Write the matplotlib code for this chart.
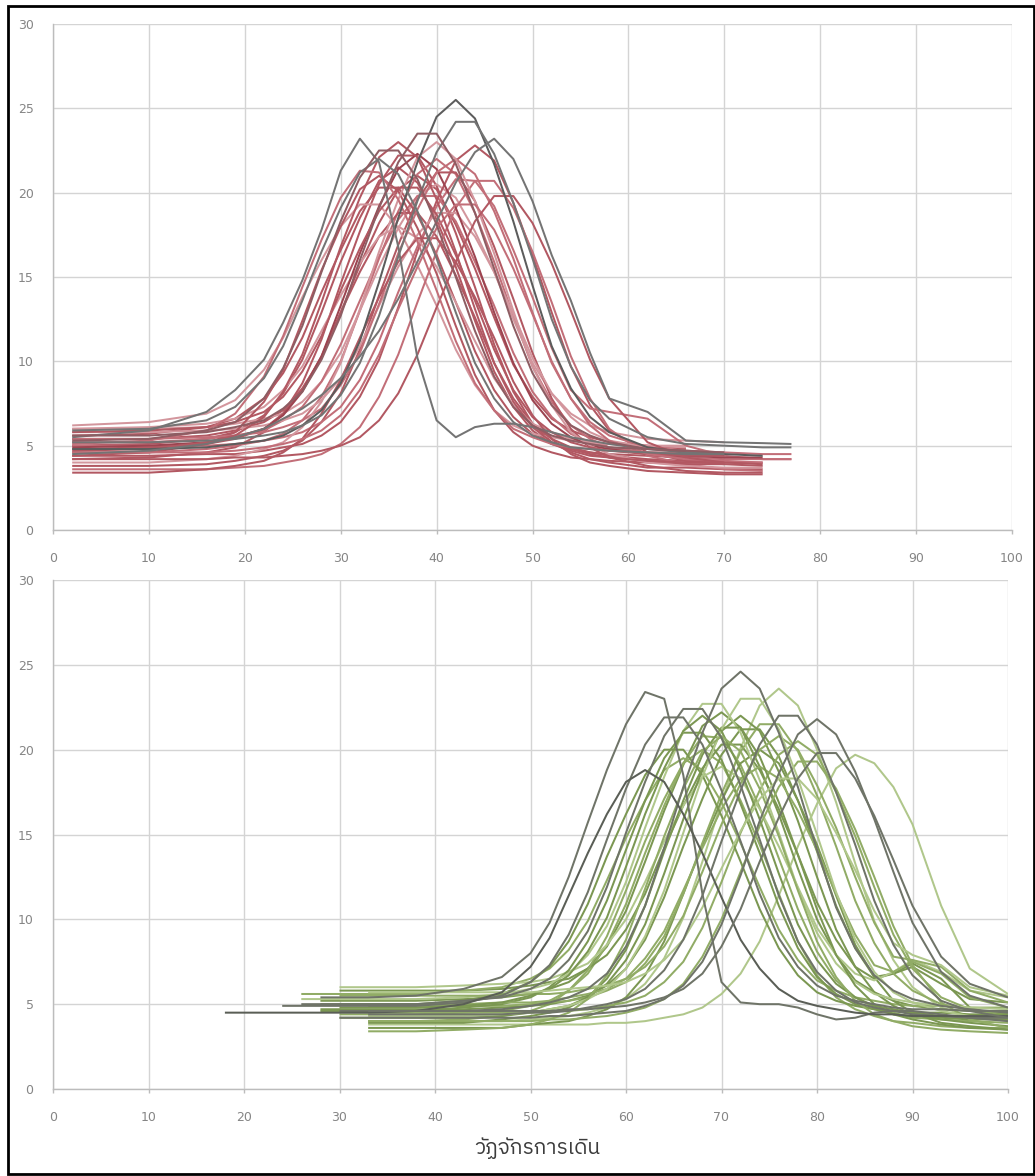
import matplotlib
matplotlib.use("Agg")
import matplotlib.pyplot as plt
from matplotlib import font_manager as fm
from matplotlib.ft2font import FT2Font
from matplotlib.patches import Rectangle

# ---------------- data ----------------
x_ticks = [0, 10, 20, 30, 40, 50, 60, 70, 80, 90, 100]
y_ticks = [0, 5, 10, 15, 20, 25, 30]
x_label = "วัฏจักรการเดิน"

# top panel: shared x grid, each curve gives y on the first len(y) grid points
top_x = [2, 10, 16, 19, 22, 24, 26, 28, 30, 32, 34, 36, 38, 40, 42, 44, 46, 48,
         50, 52, 54, 56, 58, 62, 66, 70, 74, 77]
top_y = [
    [4.8, 4.8, 4.9, 5.1, 5.3, 5.6, 6.2, 7.1, 8.7, 11.2, 14.7, 18.5, 21.8, 24.5, 25.5, 24.4, 21.7, 18.3, 14.5, 10.9, 8.4, 6.7, 5.8, 4.9, 4.6, 4.5, 4.4],
    [5.2, 5.2, 5.3, 5.4, 5.6, 5.8, 6.2, 6.8, 8.0, 9.9, 12.7, 16.2, 19.5, 22.4, 24.2, 24.2, 22.3, 19.4, 16.1, 12.5, 9.7, 7.7, 6.6, 5.5, 5.1, 5.0, 4.9, 4.9],
    [5.5, 5.9, 7.0, 8.3, 10.1, 12.3, 14.8, 17.8, 21.3, 23.2, 21.8, 16.8, 10.2, 6.5, 5.5, 6.1, 6.3, 6.3, 6.1, 5.8, 5.5, 5.3, 5.1, 4.8, 4.6, 4.5],
    [4.5, 4.7, 5.1, 5.5, 6.0, 6.6, 7.2, 8.0, 9.0, 10.3, 11.8, 13.7, 15.9, 18.3, 20.6, 22.4, 23.2, 22.0, 19.5, 16.3, 13.6, 10.5, 7.8, 7.0, 5.3, 5.2, 5.15, 5.1],
    [5.6, 5.6, 5.8, 6.1, 6.5, 7.2, 8.2, 10.1, 12.7, 16.0, 19.1, 21.8, 23.5, 23.5, 21.7, 18.8, 15.5, 12.1, 9.3, 7.4, 6.2, 5.6, 5.2, 4.8, 4.7, 4.6],
    [5.9, 6.0, 6.5, 7.3, 9.0, 10.9, 13.6, 16.5, 19.1, 21.2, 22.0, 21.1, 18.9, 16.1, 12.9, 9.9, 7.8, 6.4, 5.6, 5.2, 4.9, 4.8, 4.7, 4.6, 4.5, 4.5],
    [5.0, 5.1, 5.4, 5.8, 6.8, 8.1, 10.1, 12.9, 15.9, 18.5, 20.7, 21.5, 20.6, 18.4, 15.6, 12.4, 9.4, 7.3, 5.9, 5.1, 4.7, 4.4, 4.3, 4.1, 4.0, 4.0, 4.0],
    [4.2, 4.3, 4.6, 4.9, 5.8, 6.9, 8.7, 11.3, 14.6, 17.7, 20.5, 22.2, 22.2, 20.4, 17.6, 14.4, 11.0, 8.2, 6.3, 5.2, 4.6, 4.2, 4.0, 3.7, 3.7, 3.6, 3.6],
    [5.4, 5.4, 5.6, 5.9, 6.4, 7.1, 8.4, 10.2, 12.9, 15.7, 18.2, 20.2, 21.0, 20.2, 18.1, 15.5, 12.6, 9.8, 7.9, 6.6, 5.9, 5.5, 5.2, 5.0, 4.8],
    [4.6, 4.6, 4.8, 5.0, 5.3, 5.7, 6.5, 7.9, 10.0, 13.0, 16.1, 18.9, 21.1, 22.0, 21.1, 18.8, 15.9, 12.7, 9.7, 7.6, 6.2, 5.4, 4.9, 4.5, 4.3, 4.2, 4.2, 4.2],
    [6.0, 6.0, 6.1, 6.3, 6.6, 6.9, 7.6, 8.8, 10.5, 13.0, 15.6, 17.9, 19.8, 20.5, 19.7, 17.7, 15.3, 12.5, 9.9, 8.1, 6.9, 6.2, 5.8, 5.4, 5.3, 5.2],
    [3.8, 3.8, 3.9, 4.1, 4.4, 4.7, 5.3, 6.4, 8.1, 10.7, 13.9, 16.9, 19.6, 21.2, 21.2, 19.5, 16.8, 13.7, 10.5, 7.8, 6.0, 4.9, 4.3, 3.8, 3.5, 3.4, 3.4],
    [5.2, 5.2, 5.4, 5.6, 5.9, 6.5, 7.3, 8.8, 11.0, 13.6, 16.2, 18.4, 19.8, 19.8, 18.3, 15.9, 13.3, 10.5, 8.2, 6.7, 5.7, 5.2, 4.9, 4.6, 4.5, 4.4],
    [5.6, 5.7, 6.1, 6.6, 7.8, 9.3, 11.4, 14.1, 16.6, 18.9, 20.3, 20.3, 18.7, 16.3, 13.5, 10.6, 8.3, 6.7, 5.7, 5.1, 4.8, 4.6, 4.5, 4.4, 4.3],
    [6.2, 6.4, 6.9, 7.7, 9.5, 11.4, 13.8, 16.0, 18.0, 19.3, 19.3, 17.9, 15.7, 13.3, 10.7, 8.6, 7.1, 6.2, 5.7, 5.5, 5.3, 5.2, 5.1, 5.0, 5.0],
    [4.4, 4.4, 4.5, 4.5, 4.7, 4.9, 5.1, 5.6, 6.4, 7.9, 10.1, 13.2, 16.5, 19.5, 21.9, 22.8, 21.9, 19.4, 16.3, 12.9, 9.7, 7.4, 5.9, 4.6, 4.1, 3.9, 3.8],
    [5.0, 5.0, 5.0, 5.1, 5.3, 5.5, 5.8, 6.4, 7.3, 8.9, 11.2, 14.1, 16.8, 19.2, 20.8, 20.7, 19.2, 16.6, 13.8, 10.8, 8.3, 7.2, 7.0, 6.6, 5.0, 4.4, 4.2, 4.2],
    [4.8, 4.9, 5.1, 5.4, 6.0, 6.9, 8.3, 10.3, 12.9, 15.3, 17.4, 18.8, 18.8, 17.4, 15.1, 12.6, 9.9, 7.8, 6.3, 5.4, 4.9, 4.6, 4.4, 4.2, 4.1, 4.1],
    [3.6, 3.6, 3.6, 3.7, 3.8, 4.0, 4.2, 4.5, 5.1, 6.1, 7.9, 10.4, 13.5, 16.5, 19.1, 20.7, 20.7, 19.1, 16.5, 13.5, 10.3, 7.8, 6.0, 4.4, 3.9, 3.6, 3.5],
    [6.0, 6.1, 6.3, 6.6, 7.3, 8.3, 9.7, 11.8, 13.9, 15.8, 17.4, 18.0, 17.3, 15.6, 13.5, 11.2, 9.0, 7.4, 6.3, 5.8, 5.4, 5.2, 5.1, 5.0, 4.9],
    [5.8, 5.8, 5.9, 6.0, 6.2, 6.5, 6.9, 7.7, 9.0, 10.9, 13.3, 15.6, 17.5, 18.8, 18.8, 17.4, 15.3, 12.8, 10.2, 8.1, 6.7, 5.8, 5.3, 4.9, 4.7, 4.6],
    [4.9, 5.0, 5.2, 5.5, 6.0, 6.8, 8.2, 10.3, 13.3, 16.4, 19.2, 21.4, 22.3, 21.4, 19.1, 16.2, 12.9, 9.9, 7.7, 6.3, 5.5, 5.0, 4.8, 4.5, 4.4, 4.3, 4.3],
    [4.4, 4.6, 5.1, 5.8, 7.6, 9.5, 12.4, 15.4, 18.0, 20.2, 21.0, 20.1, 17.9, 15.2, 12.1, 9.2, 7.1, 5.8, 5.0, 4.6, 4.3, 4.2, 4.1, 4.0, 3.9, 3.9],
    [5.4, 5.4, 5.5, 5.6, 5.8, 6.1, 6.5, 7.2, 8.6, 10.5, 13.4, 16.4, 19.0, 21.2, 22.0, 21.1, 18.9, 16.1, 12.9, 9.9, 7.8, 6.4, 5.6, 4.9, 4.7, 4.6, 4.5, 4.5],
    [3.4, 3.4, 3.6, 3.8, 4.1, 4.6, 5.4, 6.9, 8.9, 11.4, 13.8, 15.9, 17.3, 17.3, 15.9, 13.8, 11.4, 8.8, 6.8, 5.4, 4.5, 4.0, 3.8, 3.5, 3.4, 3.3, 3.3],
    [5.3, 5.4, 5.9, 6.4, 7.8, 9.6, 12.1, 15.3, 18.3, 20.9, 22.5, 22.5, 20.8, 18.1, 15.0, 11.8, 9.1, 7.3, 6.2, 5.6, 5.3, 5.1, 4.9, 4.8, 4.7],
    [4.0, 4.0, 4.2, 4.4, 4.8, 5.2, 6.1, 7.6, 9.9, 13.1, 16.5, 19.6, 22.1, 23.0, 22.0, 19.5, 16.4, 13.0, 9.7, 7.4, 5.8, 5.0, 4.5, 4.0, 3.8, 3.7, 3.7],
    [5.8, 5.9, 6.1, 6.4, 7.0, 7.9, 9.4, 11.5, 14.2, 16.7, 18.9, 20.3, 20.3, 18.7, 16.3, 13.6, 10.7, 8.3, 6.7, 5.8, 5.2, 4.9, 4.7, 4.5, 4.4, 4.4],
    [4.6, 4.6, 4.6, 4.7, 4.9, 5.1, 5.4, 5.9, 6.8, 8.3, 10.4, 13.1, 15.6, 17.9, 19.3, 19.3, 17.8, 15.5, 12.8, 10.0, 7.8, 6.2, 5.3, 4.5, 4.2, 4.1, 4.0],
    [4.7, 4.8, 5.2, 5.6, 6.7, 8.2, 10.4, 13.5, 16.8, 19.7, 22.1, 23.0, 22.1, 19.6, 16.5, 13.1, 9.9, 7.6, 6.1, 5.2, 4.8, 4.5, 4.3, 4.1, 4.0, 4.0],
    [4.2, 4.2, 4.2, 4.3, 4.3, 4.4, 4.5, 4.7, 5.0, 5.5, 6.5, 8.1, 10.4, 13.2, 15.9, 18.3, 19.8, 19.8, 18.2, 15.8, 13.0, 10.1, 7.8, 5.2, 4.3, 4.0, 3.9],
    [5.1, 5.3, 5.9, 6.9, 9.1, 11.5, 14.4, 17.2, 19.7, 21.3, 21.2, 19.6, 17.1, 14.2, 11.2, 8.7, 7.1, 6.0, 5.5, 5.1, 4.9, 4.8, 4.7, 4.6, 4.6],
]
top_kind = ["dark", "gray", "gray", "gray", "grayred", "gray", "red", "red",
            "red", "red2", "light", "red", "red2", "red", "light", "red",
            "red2", "red", "red2", "light", "light", "darkred", "red", "red2",
            "red", "grayred", "light", "red", "red2", "red", "red", "red2"]

# bottom panel: shared x grid, each curve gives y on the last len(y) grid points
bot_x = [18, 24, 26, 28, 30, 33, 38, 43, 47, 50, 52, 54, 56, 58, 60, 62, 64, 66,
         68, 70, 72, 74, 76, 78, 80, 82, 84, 86, 88, 90, 93, 96, 100]
bot_y = [
    [5.4, 5.4, 5.4, 5.5, 5.9, 6.6, 8.0, 9.8, 12.5, 15.7, 18.8, 21.5, 23.4, 23.0, 18.5, 11.5, 6.3, 5.1, 5.0, 5.0, 4.8, 4.4, 4.1, 4.2, 4.5, 4.6, 4.6, 4.4, 4.2, 4.0],
    [4.6, 4.6, 4.6, 4.6, 4.7, 4.9, 5.1, 5.4, 5.9, 6.8, 8.4, 10.8, 14.2, 17.8, 21.0, 23.6, 24.6, 23.6, 21.0, 17.8, 14.1, 10.7, 8.3, 6.7, 5.8, 5.3, 4.9, 4.7, 4.5],
    [5.0, 5.0, 5.0, 5.0, 5.0, 5.2, 5.4, 5.9, 6.5, 7.6, 9.3, 11.9, 15.1, 18.1, 20.8, 22.4, 22.4, 20.7, 17.9, 14.7, 11.4, 8.7, 6.9, 5.8, 5.1, 4.8, 4.6, 4.4, 4.3, 4.2, 4.2],
    [4.9, 4.9, 4.9, 4.9, 4.9, 4.9, 5.1, 5.5, 6.3, 7.3, 9.1, 11.6, 14.7, 17.7, 20.3, 21.9, 21.9, 20.3, 17.6, 14.6, 11.5, 8.9, 7.2, 6.1, 5.5, 5.2, 5.0, 4.8, 4.7, 4.7, 4.6, 4.6],
    [4.5, 4.5, 4.5, 4.5, 4.5, 4.5, 4.6, 5.0, 5.7, 7.2, 8.9, 11.4, 13.9, 16.2, 18.1, 18.8, 18.1, 16.2, 13.9, 11.3, 8.8, 7.1, 5.9, 5.2, 4.9, 4.7, 4.5, 4.4, 4.4, 4.3, 4.3, 4.3, 4.3],
    [4.4, 4.4, 4.4, 4.4, 4.5, 4.5, 4.6, 4.8, 5.0, 5.3, 5.9, 7.0, 8.8, 11.4, 14.6, 17.6, 20.3, 22.0, 22.0, 20.3, 17.5, 14.4, 11.1, 8.5, 6.7, 5.2, 4.6, 4.2],
    [4.2, 4.2, 4.2, 4.2, 4.2, 4.2, 4.3, 4.3, 4.4, 4.5, 4.6, 4.9, 5.3, 6.1, 7.5, 9.7, 12.6, 15.8, 18.6, 20.9, 21.8, 20.9, 18.7, 15.9, 12.8, 9.8, 6.9, 5.5, 4.8],
    [4.0, 4.0, 4.0, 4.0, 4.1, 4.2, 4.3, 4.5, 4.8, 5.3, 6.2, 7.7, 10.1, 13.4, 16.9, 20.1, 22.6, 23.6, 22.6, 20.0, 16.9, 13.3, 9.9, 7.6, 6.0, 4.8, 4.3, 4.0],
    [3.8, 3.8, 3.8, 3.8, 3.8, 3.8, 3.8, 3.8, 3.9, 3.9, 4.0, 4.2, 4.4, 4.8, 5.6, 6.8, 8.7, 11.4, 14.3, 16.8, 18.9, 19.7, 19.2, 17.8, 15.6, 10.8, 7.1, 5.6],
    [5.2, 5.2, 5.2, 5.2, 5.3, 5.4, 5.6, 5.9, 6.3, 7.1, 8.4, 10.5, 13.4, 16.4, 19.1, 21.4, 22.2, 21.3, 19.0, 16.2, 13.0, 10.0, 7.9, 6.4, 5.7, 5.2, 4.9, 4.7, 4.6, 4.5],
    [4.4, 4.4, 4.4, 4.5, 4.6, 4.9, 5.2, 5.8, 6.8, 8.5, 10.9, 13.9, 16.7, 19.2, 20.8, 20.7, 19.1, 16.6, 13.6, 10.6, 8.1, 6.4, 5.4, 4.8, 4.5, 4.2, 4.1, 4.0, 3.9],
    [5.8, 5.8, 5.8, 5.8, 5.9, 6.1, 6.3, 6.5, 7.1, 7.9, 9.4, 11.5, 14.2, 16.7, 18.9, 20.3, 20.3, 18.8, 16.5, 13.8, 11.0, 8.8, 7.2, 6.5, 6.8, 7.2, 6.2, 5.3, 5.1],
    [4.0, 4.0, 4.1, 4.3, 4.6, 5.0, 5.8, 7.0, 9.0, 11.7, 14.6, 17.1, 19.2, 20.0, 19.2, 17.0, 14.4, 11.5, 8.7, 6.7, 5.4, 4.7, 4.3, 4.0, 3.9, 3.7, 3.6, 3.6],
    [4.7, 4.7, 4.7, 4.7, 4.7, 4.8, 4.9, 5.0, 5.2, 5.5, 6.1, 7.1, 8.8, 11.3, 14.3, 17.1, 19.7, 21.2, 21.2, 19.6, 17.0, 14.0, 10.8, 8.3, 6.6, 6.8, 7.4, 6.5, 4.8, 4.1],
    [5.6, 5.6, 5.6, 5.6, 5.6, 5.8, 6.0, 6.5, 7.1, 8.2, 9.9, 12.3, 14.8, 17.0, 18.8, 19.5, 18.8, 16.9, 14.5, 11.9, 9.4, 7.6, 6.4, 5.8, 5.4, 5.2, 5.0, 4.9, 4.9, 4.8, 4.8],
    [3.6, 3.6, 3.6, 3.6, 3.8, 3.9, 4.0, 4.3, 4.7, 5.4, 6.7, 8.7, 11.5, 14.4, 17.0, 19.2, 20.0, 19.2, 17.0, 14.4, 11.4, 8.5, 6.6, 5.2, 4.5, 3.9, 3.7, 3.5],
    [6.0, 6.0, 6.0, 6.1, 6.2, 6.3, 6.5, 6.9, 7.4, 8.5, 10.0, 12.2, 14.6, 16.7, 18.4, 19.0, 18.3, 16.5, 14.3, 11.9, 9.5, 7.9, 6.8, 6.4, 6.9, 7.6, 6.9, 5.8, 5.4],
    [4.9, 4.9, 4.9, 4.9, 5.0, 5.1, 5.2, 5.4, 5.8, 6.3, 7.4, 9.0, 11.5, 14.5, 17.4, 19.9, 21.5, 21.5, 19.9, 17.3, 14.3, 11.1, 8.6, 6.8, 5.8, 5.0, 4.7, 4.4],
    [4.2, 4.2, 4.2, 4.2, 4.3, 4.5, 4.7, 4.9, 5.4, 6.2, 7.6, 9.7, 12.7, 15.9, 18.8, 21.1, 22.0, 21.1, 18.7, 15.8, 12.5, 9.4, 7.2, 5.7, 4.9, 4.4, 4.1, 3.9, 3.7],
    [4.5, 4.5, 4.5, 4.5, 4.5, 4.6, 4.6, 4.7, 4.9, 5.1, 5.5, 6.3, 7.5, 9.5, 12.2, 15.1, 17.6, 19.7, 20.5, 19.7, 17.5, 14.9, 11.9, 9.1, 7.1, 5.4, 4.7, 4.2],
    [4.6, 4.6, 4.6, 4.6, 4.8, 5.0, 5.4, 6.0, 7.0, 8.7, 11.1, 14.1, 17.0, 19.5, 21.0, 21.0, 19.4, 16.8, 13.9, 10.8, 8.3, 6.6, 5.6, 5.0, 4.7, 4.4, 4.3, 4.2, 4.1, 4.1],
    [5.3, 5.3, 5.3, 5.3, 5.3, 5.4, 5.6, 5.9, 6.2, 6.8, 7.9, 9.6, 12.2, 15.4, 18.4, 21.1, 22.7, 22.7, 21.0, 18.2, 15.1, 11.8, 9.2, 7.4, 6.3, 5.6, 5.3, 5.1, 4.9, 4.8, 4.7],
    [5.0, 5.0, 5.0, 5.0, 5.1, 5.1, 5.2, 5.4, 5.6, 5.9, 6.5, 7.7, 9.3, 11.7, 14.2, 16.5, 18.3, 19.0, 18.3, 16.4, 14.1, 11.5, 9.1, 7.3, 6.9, 7.5, 6.8, 5.4, 4.8],
    [3.9, 3.9, 3.9, 4.1, 4.3, 4.5, 4.8, 5.4, 6.5, 8.2, 10.8, 14.0, 17.0, 19.7, 21.3, 21.3, 19.6, 16.9, 13.8, 10.6, 7.9, 6.1, 5.0, 4.4, 4.1, 3.8, 3.6, 3.5],
    [4.0, 4.0, 4.0, 4.0, 4.0, 4.1, 4.1, 4.2, 4.3, 4.5, 4.8, 5.3, 6.2, 7.8, 10.0, 12.8, 15.5, 17.8, 19.3, 19.3, 17.7, 15.3, 12.5, 9.6, 7.3, 5.1, 4.1, 3.6],
    [5.0, 5.0, 5.0, 5.0, 5.2, 5.6, 6.3, 7.2, 8.7, 10.9, 13.7, 16.2, 18.5, 20.0, 20.0, 18.5, 16.1, 13.4, 10.6, 8.3, 6.7, 5.7, 5.2, 4.9, 4.7, 4.6, 4.5, 4.5, 4.4, 4.4],
    [5.5, 5.5, 5.5, 5.5, 5.5, 5.6, 5.6, 5.7, 5.9, 6.1, 6.5, 7.2, 8.4, 10.2, 12.8, 15.6, 18.0, 20.0, 20.8, 20.0, 17.9, 15.4, 12.5, 9.8, 7.8, 7.6, 7.2, 5.8, 5.1],
    [4.3, 4.3, 4.3, 4.4, 4.5, 4.7, 4.9, 5.3, 5.9, 7.1, 9.0, 11.7, 15.1, 18.4, 21.2, 23.0, 23.0, 21.2, 18.3, 15.0, 11.6, 8.8, 6.9, 5.7, 5.1, 4.6, 4.3, 4.2],
    [4.8, 4.8, 4.8, 4.9, 5.1, 5.5, 5.9, 6.7, 8.1, 10.1, 13.1, 16.2, 18.9, 21.1, 22.0, 21.1, 18.8, 15.9, 12.7, 9.7, 7.6, 6.2, 5.4, 4.9, 4.7, 4.5, 4.3, 4.2, 4.2],
    [4.6, 4.6, 4.6, 4.6, 4.6, 4.6, 4.7, 4.7, 4.8, 4.9, 5.1, 5.4, 5.9, 6.8, 8.4, 10.6, 13.4, 16.0, 18.3, 19.8, 19.8, 18.3, 16.1, 13.5, 10.8, 7.8, 6.2, 5.4],
    [3.4, 3.4, 3.5, 3.6, 3.8, 4.1, 4.5, 5.3, 6.7, 8.8, 11.8, 14.9, 17.7, 19.9, 20.8, 19.9, 17.7, 14.9, 11.7, 8.7, 6.6, 5.2, 4.4, 4.0, 3.7, 3.5, 3.4, 3.3],
    [5.7, 5.7, 5.7, 5.7, 5.7, 5.8, 5.9, 6.0, 6.1, 6.3, 6.8, 7.6, 8.8, 10.7, 13.0, 15.2, 17.1, 18.3, 18.3, 17.1, 15.1, 12.9, 10.5, 8.6, 7.9, 7.3, 6.0, 5.5],
]
bot_kind = ["gray", "gray", "gray", "gray", "dark", "gray", "gray", "light",
            "light", "green", "green2", "green", "green2", "green", "green2",
            "green", "light", "green2", "green", "green2", "green", "light",
            "green2", "green", "green2", "green", "green2", "light", "green",
            "gray", "green2", "light"]

# ---------------- styles ----------------
top_colors = {"dark": "#5c5c5c", "gray": "#747474", "grayred": "#8e5d63",
              "red": "#b25862", "red2": "#c26e78", "darkred": "#9c4450",
              "light": "#d3969d"}
bot_colors = {"dark": "#5a5e56", "gray": "#6f7468", "green": "#7b9752",
              "green2": "#91ac66", "light": "#b0c78b"}
grid_col = "#d4d4d4"
spine_col = "#bcbcbc"
tick_col = "#858585"
LW = 1.45


def find_thai_font():
    best = None
    for f in fm.fontManager.ttflist:
        try:
            cmap = FT2Font(f.fname).get_charmap()
        except Exception:
            continue
        if 0x0E27 in cmap and 0x0E0F in cmap:
            name = f.name
            if best is None or ("Sans" in name and "Sans" not in best):
                best = name
    return best


thai_font = find_thai_font()

W, H = 1035, 1176
fig = plt.figure(figsize=(W / 100, H / 100), dpi=100)
fig.patch.set_facecolor("white")

ax1 = fig.add_axes([53 / W, 1 - 530 / H, (1012 - 53) / W, (530 - 24) / H])
ax2 = fig.add_axes([53 / W, 1 - 1089 / H, (1008 - 53) / W, (1089 - 580) / H])


def style_axes(ax):
    ax.set_xlim(0, 100)
    ax.set_ylim(0, 30)
    ax.set_xticks(x_ticks)
    ax.set_yticks(y_ticks)
    ax.grid(True, color=grid_col, linewidth=1.0)
    ax.set_axisbelow(True)
    for s in ["top", "right"]:
        ax.spines[s].set_visible(False)
    for s in ["left", "bottom"]:
        ax.spines[s].set_color(spine_col)
        ax.spines[s].set_linewidth(1.0)
    ax.tick_params(axis="x", colors=spine_col, length=3, width=1.0, pad=13,
                   labelcolor=tick_col, labelsize=9)
    ax.tick_params(axis="y", length=0, pad=14, labelcolor=tick_col,
                   labelsize=9)
    for lab in ax.get_xticklabels() + ax.get_yticklabels():
        lab.set_fontfamily("DejaVu Sans")


style_axes(ax1)
style_axes(ax2)

# top curves: reds first, grey ones above
order = sorted(range(len(top_y)), key=lambda i: top_kind[i] in ("gray", "dark", "grayred"))
for i in order:
    ys = top_y[i]
    xs = top_x[:len(ys)]
    ax1.plot(xs, ys, color=top_colors[top_kind[i]], linewidth=LW,
             solid_joinstyle="round", solid_capstyle="butt")

order = sorted(range(len(bot_y)), key=lambda i: bot_kind[i] in ("gray", "dark"))
for i in order:
    ys = bot_y[i]
    xs = bot_x[len(bot_x) - len(ys):]
    ax2.plot(xs, ys, color=bot_colors[bot_kind[i]], linewidth=LW,
             solid_joinstyle="round", solid_capstyle="butt")

fam = [thai_font, "DejaVu Sans"] if thai_font else ["DejaVu Sans"]
fig.text(537 / W, 1 - 1148 / H, x_label, ha="center", va="center",
         fontsize=15, color="#3c3c3c", family=fam)

# outer frame
fig.patches.append(Rectangle((8 / W, 2 / H), (1034 - 8) / W, (1170 - 2) / H,
                             transform=fig.transFigure, fill=False,
                             edgecolor="black", linewidth=2.0))

fig.savefig("out.png", dpi=100, facecolor="white")
